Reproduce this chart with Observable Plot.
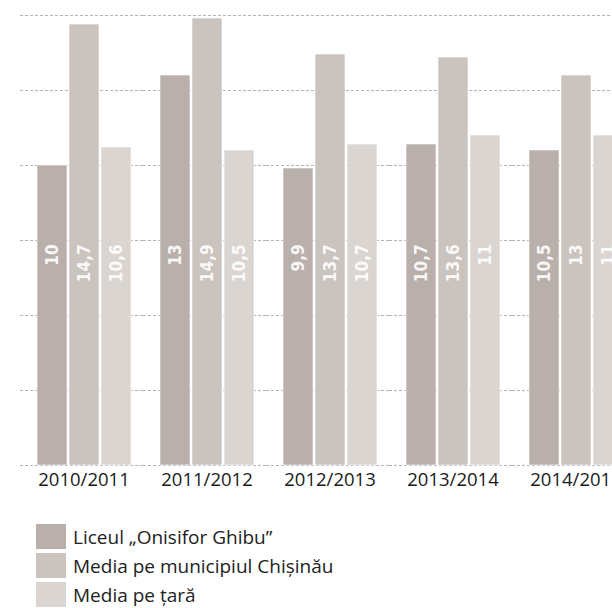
<!DOCTYPE html>
<html>
<head>
<meta charset="utf-8">
<script src="https://cdn.jsdelivr.net/npm/d3@7"></script>
<script src="https://cdn.jsdelivr.net/npm/@observablehq/plot@0.6"></script>
<style>
  html, body { margin: 0; padding: 0; background: #fff; overflow: hidden; }
  #chart svg { max-width: none !important; }
  .legend { margin: 22px 0 0 36px; font-family: "Open Sans", sans-serif; font-size: 19px; color: #222; }
  .legend .row { display: flex; align-items: center; height: 29px; }
  .legend .sw { width: 30px; height: 25px; margin-right: 7px; }
</style>
</head>
<body>
<div id="chart"></div>
<div class="legend" id="legend"></div>
<script>
const years = ["2010/2011", "2011/2012", "2012/2013", "2013/2014", "2014/2015"];
const series = ["Liceul „Onisifor Ghibu”", "Media pe municipiul Chișinău", "Media pe țară"];
const liceul = [10, 13, 9.9, 10.7, 10.5];
const chisinau = [14.7, 14.9, 13.7, 13.6, 13];
const tara = [10.6, 10.5, 10.7, 11, 11];
const colors = ["#bab0ab", "#cbc3be", "#dad5d1"];
const gridTicks = [0, 2.5, 5, 7.5, 10, 12.5, 15];

const seriesValues = [liceul, chisinau, tara];
const data = [];
years.forEach((y, i) => series.forEach((s, j) => data.push({year: y, series: s, value: seriesValues[j][i]})));

const fmt = d => String(d).replace(".", ",");

const chart = Plot.plot({
  width: 641,
  height: 500,
  marginTop: 15,
  marginBottom: 35,
  marginLeft: 18,
  marginRight: 0,
  style: {fontFamily: "Open Sans, sans-serif", background: "white", maxWidth: "none"},
  fx: {domain: years, paddingInner: 0.228, paddingOuter: 0.146, label: null},
  x: {domain: series, axis: null, paddingInner: 0.077, paddingOuter: 0},
  y: {domain: [0, 15], axis: null},
  color: {domain: series, range: colors},
  marks: [
    Plot.ruleY(gridTicks, {y: d => d, stroke: "#b4b4b4", strokeWidth: 1, strokeDasharray: "3,2", insetLeft: -16, insetRight: -14}),
    Plot.barY(data, {fx: "year", x: "series", y: "value", fill: "series", stroke: "white", strokeWidth: 0.6}),
    Plot.text(data, {
      fx: "year", x: "series", y: () => 7.37, text: d => fmt(d.value),
      rotate: -90, textAnchor: "end", fill: "white", fillOpacity: 0.92,
      fontWeight: "bold", fontSize: 17, fontFamily: "DejaVu Sans Condensed"
    }),
    Plot.axisFx({anchor: "bottom", tickSize: 0, tickPadding: 7, fontSize: 18.5, label: null, fill: "#1a1a1a"})
  ]
});
document.getElementById("chart").appendChild(chart);

const legend = document.getElementById("legend");
series.forEach((s, i) => {
  const row = document.createElement("div");
  row.className = "row";
  const sw = document.createElement("div");
  sw.className = "sw";
  sw.style.background = colors[i];
  const label = document.createElement("span");
  label.textContent = s;
  row.appendChild(sw);
  row.appendChild(label);
  legend.appendChild(row);
});
</script>
</body>
</html>
